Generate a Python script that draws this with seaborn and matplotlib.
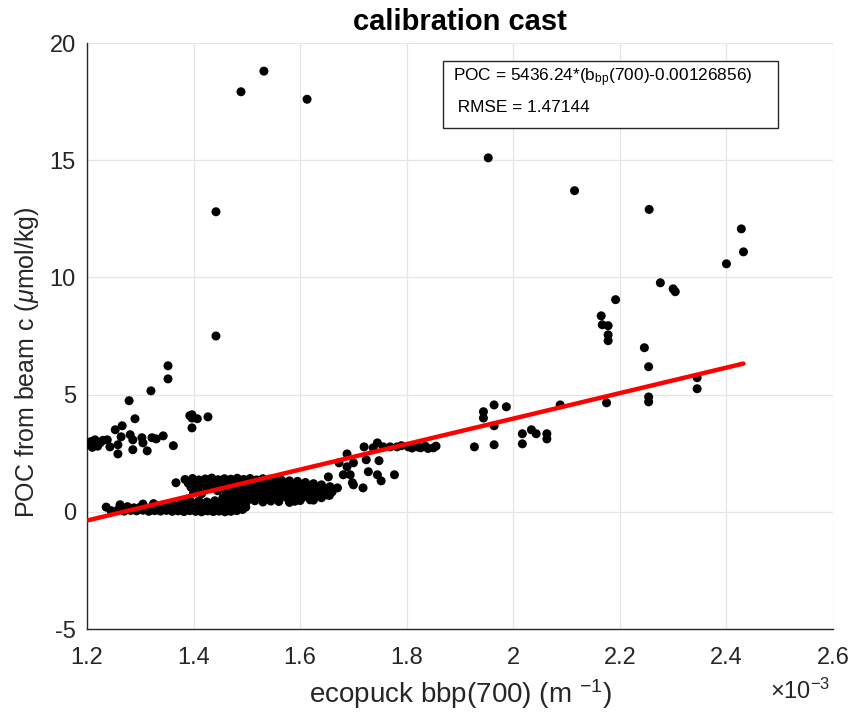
import numpy as np
import pandas as pd
import matplotlib
matplotlib.use("Agg")
import matplotlib.pyplot as plt
from matplotlib.patches import Rectangle
import seaborn as sns

# ---------------- data (bbp in units of 1e-3 m^-1, POC in umol/kg) ----------------
# high outliers
bbp_hi = [1.489, 1.532, 1.613, 1.442, 1.442]
poc_hi = [17.92, 18.8, 17.6, 12.8, 7.5]

# left group near POC ~3
bbp_left = [1.352, 1.352, 1.32, 1.279, 1.29, 1.253, 1.266, 1.202, 1.208, 1.215, 1.22, 1.225,
            1.21, 1.23, 1.238, 1.243, 1.258, 1.258, 1.264, 1.281, 1.286, 1.286, 1.303, 1.305,
            1.313, 1.322, 1.33, 1.343, 1.362, 1.397, 1.397, 1.407, 1.427, 1.397, 1.393]
poc_left = [6.23, 5.67, 5.16, 4.74, 3.97, 3.5, 3.67, 2.86, 3.0, 3.07, 2.8, 2.95,
            2.75, 3.05, 3.07, 2.77, 2.86, 2.47, 3.2, 3.29, 3.07, 2.65, 3.16, 2.94,
            2.6, 3.16, 3.11, 3.24, 2.82, 4.14, 4.0, 3.97, 4.05, 3.58, 4.1]

# right side scatter
bbp_right = [1.953, 2.115, 2.255, 2.428, 2.432, 2.40, 2.276, 2.30, 2.304, 2.192, 2.165, 2.167,
             2.178, 2.178, 2.178, 2.246, 2.254, 2.345, 2.345, 2.254, 2.254, 2.175, 2.088,
             1.850, 1.855, 1.927, 1.944, 1.944, 1.964, 1.987, 1.964, 1.964, 2.017, 2.017,
             2.034, 2.043, 2.063, 2.063]
poc_right = [15.1, 13.7, 12.9, 12.07, 11.09, 10.58, 9.77, 9.51, 9.39, 9.05, 8.36, 7.98,
             7.94, 7.55, 7.3, 7.0, 6.19, 5.72, 5.25, 4.9, 4.69, 4.65, 4.56,
             2.73, 2.8, 2.77, 4.27, 4.0, 4.56, 4.48, 3.67, 2.86, 3.33, 2.9,
             3.5, 3.33, 3.33, 3.11]

# tail of the main cloud
bbp_tail = [1.653, 1.673, 1.70, 1.688, 1.724, 1.748, 1.728, 1.745, 1.752, 1.777, 1.718, 1.688,
            1.681, 1.694, 1.698, 1.70, 1.638, 1.656, 1.67, 1.619, 1.581,
            1.72, 1.737, 1.745, 1.756, 1.769, 1.782, 1.803, 1.82, 1.826, 1.84, 1.835, 1.81, 1.79]
poc_tail = [1.49, 2.09, 2.09, 2.47, 2.22, 2.18, 1.71, 1.58, 1.32, 1.58, 1.02, 1.92,
            1.58, 1.58, 1.24, 1.15, 0.85, 1.07, 1.02, 0.51, 0.55,
            2.77, 2.73, 2.94, 2.77, 2.77, 2.77, 2.77, 2.77, 2.73, 2.7, 2.8, 2.72, 2.82]

# lower band of the main cloud
bbp_low = [1.245, 1.258, 1.27, 1.282, 1.293, 1.305, 1.316, 1.327, 1.338, 1.349, 1.36, 1.371,
           1.382, 1.393, 1.404, 1.415, 1.426, 1.437, 1.448, 1.459, 1.47, 1.481, 1.492,
           1.236, 1.262, 1.276, 1.288, 1.3, 1.311, 1.322, 1.333, 1.344, 1.355, 1.366, 1.377,
           1.388, 1.399, 1.41, 1.421, 1.432, 1.443, 1.454, 1.465, 1.476, 1.487, 1.498,
           1.305, 1.325, 1.345, 1.36, 1.375, 1.39, 1.405, 1.42, 1.435, 1.45, 1.465, 1.48, 1.495]
poc_low = [0.05, 0.08, 0.03, 0.06, 0.04, 0.07, 0.02, 0.05, 0.03, 0.06, 0.02, 0.04,
           0.01, 0.05, 0.02, 0.0, 0.04, 0.01, 0.03, 0.0, 0.02, 0.05, 0.1,
           0.2, 0.3, 0.22, 0.17, 0.2, 0.15, 0.22, 0.18, 0.14, 0.2, 0.16, 0.22,
           0.18, 0.14, 0.2, 0.17, 0.23, 0.18, 0.15, 0.22, 0.19, 0.24, 0.2,
           0.33, 0.35, 0.3, 0.36, 0.32, 0.37, 0.33, 0.3, 0.36, 0.32, 0.38, 0.35, 0.3]

# upper band of the main cloud
bbp_up = [1.384, 1.398, 1.41, 1.422, 1.434, 1.446, 1.458, 1.47, 1.482, 1.494, 1.506, 1.518,
          1.53, 1.542, 1.554,
          1.367, 1.39, 1.402, 1.414, 1.426, 1.438, 1.45, 1.462, 1.474, 1.486, 1.498, 1.51,
          1.522, 1.534, 1.546, 1.558, 1.57, 1.582,
          1.395, 1.41, 1.425, 1.44, 1.455, 1.47, 1.485, 1.5, 1.515, 1.53, 1.545, 1.56,
          1.575, 1.59, 1.605]
poc_up = [1.38, 1.42, 1.36, 1.4, 1.44, 1.37, 1.41, 1.39, 1.43, 1.38, 1.42, 1.36,
          1.41, 1.39, 1.35,
          1.24, 1.22, 1.2, 1.25, 1.19, 1.23, 1.21, 1.26, 1.2, 1.24, 1.18, 1.22,
          1.25, 1.2, 1.23, 1.19, 1.24, 1.21,
          1.05, 1.08, 1.02, 1.06, 1.04, 1.09, 1.03, 1.07, 1.05, 1.1, 1.04, 1.08,
          1.06, 1.02, 1.07]

# middle / right part of the main cloud
bbp_mid = [1.445, 1.46, 1.475, 1.49, 1.505, 1.52, 1.535, 1.55, 1.565, 1.58, 1.595, 1.61, 1.625, 1.64,
           1.40, 1.415, 1.47, 1.485, 1.5, 1.515, 1.53, 1.545, 1.56, 1.575, 1.59, 1.605, 1.62, 1.635, 1.65,
           1.455, 1.47, 1.485, 1.5, 1.515, 1.53, 1.545, 1.56, 1.575, 1.59, 1.605, 1.62,
           1.38, 1.395, 1.41, 1.425, 1.44, 1.455, 1.47, 1.485, 1.5, 1.515, 1.53, 1.545, 1.56, 1.58, 1.6,
           1.565, 1.58, 1.595, 1.61, 1.625, 1.64, 1.60, 1.62, 1.635, 1.65, 1.66, 1.655, 1.64, 1.625, 1.59]
poc_mid = [0.9, 0.88, 0.93, 0.86, 0.91, 0.89, 0.94, 0.87, 0.92, 0.9, 0.86, 0.93, 0.88, 0.91,
           0.8, 0.77, 0.74, 0.78, 0.72, 0.76, 0.79, 0.73, 0.77, 0.75, 0.71, 0.78, 0.74, 0.76, 0.72,
           0.6, 0.63, 0.58, 0.62, 0.57, 0.61, 0.64, 0.59, 0.6, 0.56, 0.62, 0.58,
           0.45, 0.43, 0.46, 0.42, 0.47, 0.44, 0.48, 0.43, 0.45, 0.47, 0.42, 0.46, 0.44, 0.4, 0.48,
           1.35, 1.32, 1.3, 1.25, 1.2, 1.15, 1.15, 1.05, 1.0, 0.95, 0.85, 0.7, 0.6, 0.5, 0.45]

# calibration fit (from the annotation)
fit_slope = 5436.24
fit_offset = 0.00126856
fit_rmse = 1.47144

# ---------------- assemble ----------------
bbp_all = np.array(bbp_hi + bbp_left + bbp_right + bbp_tail + bbp_low + bbp_up + bbp_mid) * 1e-3
poc_all = np.array(poc_hi + poc_left + poc_right + poc_tail + poc_low + poc_up + poc_mid)
df = pd.DataFrame({"bbp": bbp_all, "poc": poc_all})

fit_x = np.array([bbp_all.min(), bbp_all.max()])
fit_df = pd.DataFrame({"bbp": fit_x, "poc": fit_slope * (fit_x - fit_offset)})

# ---------------- style ----------------
sns.set_theme(style="white")
plt.rcParams["font.family"] = ["Liberation Sans", "DejaVu Sans"]
plt.rcParams["mathtext.fontset"] = "custom"
plt.rcParams["mathtext.rm"] = "Liberation Sans"
plt.rcParams["mathtext.it"] = "Liberation Sans:italic"
plt.rcParams["mathtext.bf"] = "Liberation Sans:bold"

AX_COL = "#262626"

fig = plt.figure(figsize=(8.57, 7.19), dpi=100)
ax = fig.add_axes([87 / 857, 1 - 629 / 719, 746 / 857, 586 / 719])

sns.scatterplot(data=df, x="bbp", y="poc", color="black", s=42, linewidth=0,
                edgecolor="none", ax=ax, zorder=3)
sns.lineplot(data=fit_df, x="bbp", y="poc", color="red", linewidth=3.2, ax=ax, zorder=4)

ax.set_xlim(1.2e-3, 2.6e-3)
ax.set_ylim(-5, 20)
ax.set_xticks(np.array([1.2, 1.4, 1.6, 1.8, 2.0, 2.2, 2.4, 2.6]) * 1e-3)
ax.set_yticks([-5, 0, 5, 10, 15, 20])
ax.xaxis.set_major_formatter(matplotlib.ticker.FuncFormatter(lambda v, p: f"{v * 1e3:g}"))
ax.yaxis.set_major_formatter(matplotlib.ticker.FuncFormatter(lambda v, p: f"{v:g}"))

ax.grid(True, color="#e5e5e5", linewidth=0.9)
ax.set_axisbelow(True)
for s in ["top", "right"]:
    ax.spines[s].set_visible(False)
for s in ["left", "bottom"]:
    ax.spines[s].set_color(AX_COL)
    ax.spines[s].set_linewidth(1.0)
ax.tick_params(direction="in", length=5, width=1, color=AX_COL, labelcolor=AX_COL,
               labelsize=17)
ax.tick_params(axis="x", pad=13)
ax.tick_params(axis="y", pad=8)

ax.set_xlabel("ecopuck bbp(700) (m $^{\\mathregular{-1}}$)", fontsize=20, color=AX_COL, labelpad=6)
ax.set_ylabel("POC from beam c ($\\mu$mol/kg)", fontsize=18, color=AX_COL)
ax.yaxis.set_label_coords(-0.061, (629 - 362) / 586)
ax.set_title("calibration cast", fontsize=21, fontweight="bold", color="black", pad=9)

ax.text(0.997, -0.107, "$\\times$10$^{\\mathregular{-3}}$", transform=ax.transAxes,
        ha="right", va="center", fontsize=17, color=AX_COL)

# annotation box
bx0, bx1 = (443 - 87) / 746, (778 - 87) / 746
by0, by1 = (629 - 128) / 586, (629 - 61) / 586
ax.add_patch(Rectangle((bx0, by0), bx1 - bx0, by1 - by0, transform=ax.transAxes,
                       facecolor="white", edgecolor=AX_COL, linewidth=1.0, zorder=6))
ax.text((453 - 87) / 746, (629 - 78) / 586,
        f"POC = {fit_slope:g}*(b$_{{\\mathregular{{bp}}}}$(700)-{fit_offset:g})",
        transform=ax.transAxes, ha="left", va="center", fontsize=12.4, color="black", zorder=7)
ax.text((453 - 87) / 746, (629 - 107) / 586, f" RMSE = {fit_rmse:g}",
        transform=ax.transAxes, ha="left", va="center", fontsize=12.4, color="black", zorder=7)

fig.savefig("out.png", dpi=100, facecolor="white")
